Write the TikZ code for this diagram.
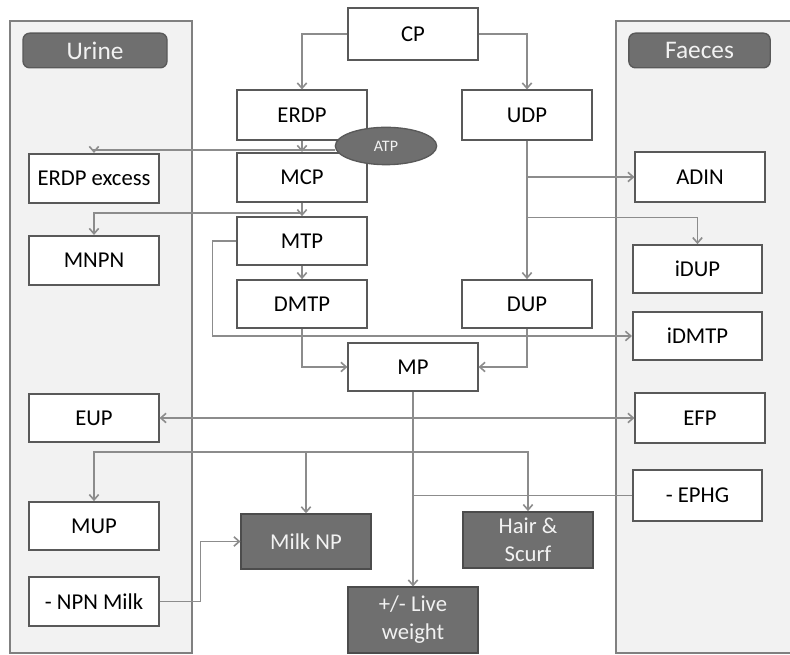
\documentclass[tikz,border=0pt]{standalone}
\usepackage{fontspec}
\setmainfont{Carlito}
\usetikzlibrary{arrows.meta,shapes.geometric}
\definecolor{edge}{HTML}{595959}
\definecolor{wire}{HTML}{8C8C8C}
\definecolor{pane}{HTML}{F2F2F2}
\definecolor{shade}{HTML}{6F6F6F}
\definecolor{frame}{HTML}{808080}
\begin{document}
\begin{tikzpicture}[x=0.75pt,y=-0.75pt,font=\fontsize{17}{21}\selectfont,
	box/.style={rectangle,draw=edge,line width=1.3pt,fill=white,minimum width=97pt,minimum height=37pt,inner sep=0pt,align=center},
	dark/.style={box,fill=shade,draw=black!70,text=pane},
	head/.style={rectangle,rounded corners=5pt,draw=edge,line width=1pt,fill=shade,text=pane,minimum height=26pt,font=\fontsize{19}{23}\selectfont},
	link/.style={draw=wire,line width=1.2pt,->},
	>={Straight Barb[length=4pt,width=7pt]}]
	\useasboundingbox (0,0) rectangle (790,655);

	% panels
	\fill[pane] (10,21) rectangle (192,653);
	\draw[frame,line width=1.5pt] (10,21) rectangle (192,653);
	\fill[pane] (616,21) rectangle (790,653);
	\draw[frame,line width=1.5pt] (790,21) -| (616,653) -- (790,653);
	\node (urine) [head,minimum width=108pt] at (95,50.5) {Urine};
	\node (faeces) [head,minimum width=106pt] at (699.5,50.5) {Faeces};

	\node (CP) [box,minimum height=39pt] at (413,34) {CP};
	\node (ERDP) [box] at (302,115) {ERDP};
	\node (MCP) [box] at (302,177.5) {MCP};
	\node (MTP) [box,minimum height=36pt] at (302,241) {MTP};
	\node (DMTP) [box,minimum height=36pt] at (302,304) {DMTP};
	\node (UDP) [box] at (527,115) {UDP};
	\node (DUP) [box,minimum height=36pt] at (527,304) {DUP};
	\node (MP) [box,minimum height=36pt] at (413,367) {MP};

	\node (ERDPx) [box] at (94,178.5) {ERDP excess};
	\node (MNPN) [box] at (94,260.5) {MNPN};
	\node (EUP) [box,minimum height=36pt] at (94,418) {EUP};
	\node (MUP) [box,minimum height=36pt] at (94,526) {MUP};
	\node (NPN) [box] at (94,601.5) {- NPN Milk};

	\node (ADIN) [box] at (700,177) {ADIN};
	\node (iDUP) [box,minimum height=36pt] at (697.5,269) {iDUP};
	\node (iDMTP) [box,minimum height=36pt] at (697.5,336) {iDMTP};
	\node (EFP) [box] at (700,418) {EFP};
	\node (EPHG) [box,minimum height=38pt] at (697.5,495.5) {- EPHG};

	\node (MilkNP) [dark,minimum height=41pt] at (306,541.5) {Milk NP};
	\node (Hair) [dark,minimum height=42pt] at (528,540) {Hair \&\\Scurf};
	\node (LW) [dark,minimum height=49pt] at (413,620) {+/- Live\\weight};

	\node (ATP) [ellipse,fill=shade,draw=edge,line width=1pt,minimum width=76pt,minimum height=28pt,inner sep=0pt,text=pane,font=\fontsize{12}{14}\selectfont] at (386,146) {ATP};

	% connectors
	\draw[link] (CP.west) -| (ERDP.north);
	\draw[link] (CP.east) -| (UDP.north);
	\draw[link] (ERDP.south) -- (MCP.north);
	\draw[link] ([yshift=-3pt]ATP.west) -| (ERDPx.north);
	\draw[link] (MCP.south) -- (MTP.north);
	\draw[link] (MCP.south) ++(0,10) -| (MNPN.north);
	\draw[link] (MTP.south) -- (DMTP.north);
	\draw[link] (MTP.west) -- ++(-24,0) |- (iDMTP.west);
	\draw[link] (DMTP.south) |- (MP.west);
	\draw[link] (DUP.south) |- (MP.east);
	\draw[link] (UDP.south) -- (DUP.north);
	\draw[link] (ADIN.west -| UDP.south) -- (ADIN.west);
	\draw[link] (UDP.south) ++(0,77) -| (iDUP.north);
	\draw[link] (MP.south) -- (LW.north);
	\draw[link,<->] (EUP.east) -- (EFP.west);
	\coordinate (split) at (413,452);
	\draw[link] (split) -| (MUP.north);
	\draw[link] (split) -| (Hair.north);
	\draw[link] (split -| MilkNP.north) -- (MilkNP.north);
	\draw[draw=wire,line width=1.2pt] (EPHG.west) -- (EPHG.west -| MP.south);
	\draw[link] (NPN.east) -- ++(41,0) |- (MilkNP.west);
\end{tikzpicture}
\end{document}
